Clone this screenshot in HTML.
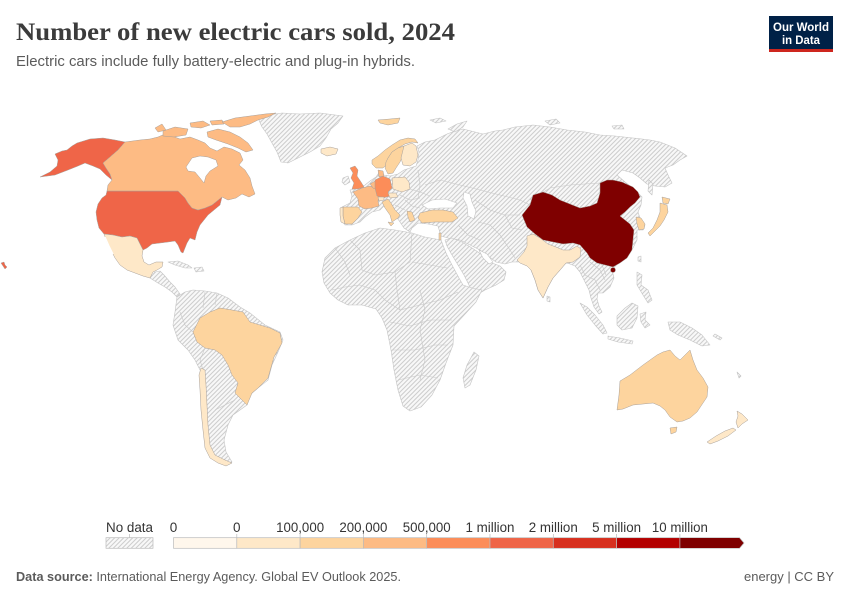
<!DOCTYPE html>
<html><head><meta charset="utf-8"><style>
html,body{margin:0;padding:0;background:#fff;}
svg{display:block;}
</style></head><body>
<svg width="850" height="600" viewBox="0 0 850 600" xmlns="http://www.w3.org/2000/svg" font-family="'Liberation Sans', sans-serif">
<defs>
<pattern id="h" patternUnits="userSpaceOnUse" width="4.5" height="4.5">
<rect width="4.5" height="4.5" fill="#f8f8f8"/>
<path d="M-1,1 L1,-1 M0,4.5 L4.5,0 M3.5,5.5 L5.5,3.5" stroke="#cdcdcd" stroke-width="1"/>
</pattern>
</defs>
<rect width="850" height="600" fill="#fff"/>

<!-- Header -->
<text x="16" y="40" font-family="'Liberation Serif', serif" font-size="25" font-weight="bold" fill="#3b3b3b" textLength="439" lengthAdjust="spacingAndGlyphs">Number of new electric cars sold, 2024</text>
<text x="16" y="66" font-size="14.5" fill="#5b5b5b" textLength="399" lengthAdjust="spacingAndGlyphs">Electric cars include fully battery-electric and plug-in hybrids.</text>
<rect x="769" y="16" width="64" height="36" fill="#002147"/>
<rect x="769" y="49" width="64" height="3" fill="#ce261e"/>
<text x="801" y="31" font-size="12" font-weight="bold" fill="#fff" text-anchor="middle" textLength="56" lengthAdjust="spacingAndGlyphs">Our World</text>
<text x="801" y="44" font-size="12" font-weight="bold" fill="#fff" text-anchor="middle" textLength="38" lengthAdjust="spacingAndGlyphs">in Data</text>

<!-- MAP: hatched (no data) -->
<g fill="url(#h)" stroke="#c4c4c4" stroke-width="0.6" stroke-linejoin="round">
<path d="M258,118 L268,115 L282,113 L300,114 L320,113 L343,116 L338,123 L331,129 L326,138 L320,146 L310,152 L298,158 L288,163 L281,162 L277,152 L272,143 L267,134 L262,127 Z"/>
<path d="M341,216 L342,207 L350,203 L352,196 L350,190 L358,188 L365,185 L370,181 L376,177 L380,171 L384,175 L390,176 L398,174 L404,170 L410,168 L416,166 L418,160 L419,152 L417,146 L425,142 L435,140 L447,134 L455,131 L463,129 L475,132 L483,134 L495,131 L503,130 L515,127 L533,125 L550,127 L567,130 L585,132 L600,135 L615,136 L633,138 L650,140 L660,142 L675,148 L687,156 L680,160 L673,165 L665,168 L668,175 L672,183 L665,187 L655,186 L647,184 L640,178 L633,173 L622,170 L617,175 L625,182 L635,190 L642,197 L641,205 L638,212 L640,218 L645,225 L643,230 L637,230 L637,240 L633,248 L628,255 L618,263 L612,270 L614,278 L610,287 L603,293 L598,293 L597,299 L599,306 L602,312 L599,314 L594,307 L591,298 L589,290 L585,282 L580,272 L575,266 L570,264 L566,263 L560,270 L553,278 L548,287 L543,298 L538,290 L535,280 L531,270 L527,265 L520,262 L512,262 L505,264 L496,262 L488,256 L480,250 L470,245 L460,240 L448,238 L441,236 L438,226 L428,224 L418,223 L412,228 L410,232 L404,228 L400,222 L395,215 L390,210 L385,205 L380,210 L372,212 L365,217 L360,222 L352,225 L345,225 Z"/>
<path d="M448,129 L457,124 L467,121 L463,127 L455,132 Z"/>
<path d="M430,120 L440,118 L446,121 L436,123 Z"/>
<path d="M545,121 L556,119 L560,123 L550,125 Z"/>
<path d="M612,126 L622,125 L624,129 L614,129 Z"/>
<path d="M649,180 L653,184 L652,195 L648,191 Z"/>
<path d="M343,178 L348,176 L350,182 L345,185 L342,182 Z"/>
<path d="M445,240 L452,238 L462,242 L472,248 L478,252 L486,258 L492,263 L500,266 L506,272 L504,280 L496,285 L485,290 L475,296 L472,293 L469,285 L464,275 L458,265 L452,255 L447,246 Z"/>
<path d="M322,272 L325,258 L335,248 L350,240 L365,233 L380,228 L395,230 L412,233 L425,237 L441,240 L446,253 L452,265 L459,278 L463,285 L472,288 L482,290 L476,302 L466,313 L454,326 L453,345 L446,363 L440,380 L432,395 L421,407 L410,411 L403,406 L398,390 L394,370 L391,350 L387,330 L382,318 L376,309 L362,305 L348,305 L338,300 L330,293 L324,283 Z"/>
<path d="M474,352 L479,356 L476,370 L470,385 L465,388 L463,378 L467,365 Z"/>
<path d="M150,278 L155,272 L160,271 L164,275 L170,282 L175,287 L180,294 L177,297 L172,292 L165,287 L158,283 Z"/>
<path d="M168,262 L178,261 L188,265 L192,268 L185,268 L175,265 Z"/>
<path d="M194,268 L202,267 L204,271 L196,272 Z"/>
<path d="M177,297 L185,292 L193,290 L205,291 L217,293 L228,298 L240,307 L250,313 L265,325 L280,332 L283,340 L278,352 L272,365 L268,380 L258,388 L250,395 L247,405 L240,410 L233,415 L228,425 L224,440 L226,452 L232,462 L225,465 L218,460 L210,452 L206,440 L204,425 L203,410 L202,390 L201,372 L195,360 L188,350 L178,340 L173,325 L175,312 Z"/>
<path d="M580,303 L587,307 L595,315 L603,325 L607,333 L603,334 L595,325 L587,315 Z"/>
<path d="M608,336 L620,338 L633,341 L632,344 L618,342 L608,339 Z"/>
<path d="M617,316 L625,308 L632,303 L638,306 L637,318 L632,328 L622,330 L617,325 Z"/>
<path d="M640,314 L646,312 L645,320 L650,325 L645,328 L641,322 Z"/>
<path d="M637,272 L642,275 L641,285 L648,290 L652,300 L648,303 L643,295 L637,285 Z"/>
<path d="M668,322 L680,322 L692,328 L702,335 L710,345 L702,346 L690,340 L678,335 L670,330 Z"/>
<path d="M638,257 L641,256 L641,262 L638,261 Z"/>
<path d="M547,296 L550,297 L550,302 L547,301 Z"/>
<path d="M715,334 L722,338 L720,340 L713,336 Z"/>
<path d="M737,372 L741,376 L739,378 Z"/>
</g>
<g fill="#fff" stroke="#c4c4c4" stroke-width="0.6">
<path d="M422,205 L432,200 L445,199 L457,203 L453,208 L440,208 L428,209 Z"/>
<path d="M464,192 L470,194 L472,202 L476,211 L474,219 L468,216 L467,206 L463,198 Z"/>
<path d="M479,250 L487,254 L493,262 L489,264 L483,258 Z"/>
</g>
<g fill="none" stroke="#c8c8c8" stroke-width="0.6">
<path d="M335,248 L345,262 L350,275 M350,240 L360,250 L362,270 L375,275 L395,272 L410,262 L412,233 M412,262 L430,265 L447,268"/>
<path d="M332,290 L345,287 L360,285 L375,290 L385,300 L400,310 L420,305 L440,300 L458,292 M390,322 L410,326 L430,320 L452,320 M393,350 L415,350 L435,345 L448,345 M398,380 L420,375 L438,378 M420,290 L425,310 L420,330 L425,360 L420,380 M395,272 L397,290 L400,310"/>
<path d="M205,348 L200,360 L203,370 M235,400 L225,405 L215,410 M193,332 L185,325 L180,312 M217,293 L215,305 M205,292 L203,308"/>
<path d="M410,189 L420,192 L430,196 M400,195 L410,200 L420,198 M395,205 L405,210 M418,170 L420,185 L418,198 M405,200 L412,206 L420,208"/>
<path d="M425,185 L440,180 L460,185 L480,190 L500,195 L520,200 L530,205 M530,200 L550,188 L570,185 L600,183 M475,200 L490,210 L505,215 L520,215 M490,225 L500,235 L510,250 L515,258 M478,222 L490,225 M505,215 L512,228 L522,230 M458,225 L468,235 L480,240"/>
<path d="M580,265 L585,275 L595,280 L600,290 M590,262 L600,270 L605,280 M600,260 L606,275"/>
</g>

<!-- Colored countries -->
<g stroke="#a8a09a" stroke-width="0.5" stroke-linejoin="round">
<path fill="#ef6548" d="M40,177 L50,172 L57,166 L58,160 L55,154 L62,151 L67,150 L72,146 L77,143 L90,139 L103,138 L115,140 L125,142 L118,150 L110,157 L103,163 L106,168 L110,174 L112,180 L106,175 L100,169 L93,166 L85,163 L78,166 L68,170 L55,175 Z"/>
<path fill="#ef6548" d="M107,191 L178,191 L180,193 L185,198 L188,203 L192,208 L198,210 L205,208 L212,205 L217,201 L222,197 L220,205 L214,210 L208,215 L204,220 L200,225 L197,232 L195,240 L190,238 L187,243 L185,248 L183,253 L181,252 L178,245 L175,241 L168,242 L160,243 L152,244 L147,248 L143,250 L140,244 L137,238 L130,236 L122,237 L113,235 L104,234 L99,228 L97,220 L96,212 L98,204 L102,198 L106,195 Z"/>
<path fill="#ef6548" d="M1,263 L4,262 L5,265 L7,267 L5,269 L3,266 Z"/>
<path fill="#fdbb84" d="M125,142 L140,140 L150,139 L158,137 L165,134 L172,136 L180,139 L190,137 L198,140 L205,143 L210,148 L217,151 L224,147 L232,149 L240,153 L243,160 L239,165 L245,170 L250,178 L252,186 L255,194 L249,197 L242,194 L236,198 L228,200 L222,197 L217,201 L212,205 L205,208 L198,210 L192,208 L188,203 L185,198 L180,193 L178,191 L107,191 L108,185 L112,180 L110,174 L106,168 L103,163 L110,157 L118,150 Z"/>
<path fill="#fdbb84" d="M207,132 L218,129 L230,132 L240,137 L248,143 L253,150 L246,152 L238,148 L228,144 L216,140 L208,137 Z"/>
<path fill="#fdbb84" d="M163,131 L175,127 L188,129 L186,135 L174,137 L163,136 Z"/>
<path fill="#fdbb84" d="M155,128 L162,124 L166,130 L158,132 Z"/>
<path fill="#fdbb84" d="M190,123 L203,121 L210,125 L201,128 L191,127 Z"/>
<path fill="#fdbb84" d="M210,121 L222,120 L224,124 L212,125 Z"/>
<path fill="#fdbb84" d="M222,122 L235,118 L250,116 L265,114 L276,113 L268,117 L258,120 L250,124 L240,127 L230,127 Z"/>
<path fill="#fee8c8" d="M104,234 L113,235 L122,237 L130,236 L137,238 L140,244 L143,250 L142,256 L144,262 L149,265 L156,262 L163,262 L162,267 L157,270 L153,272 L150,278 L143,276 L135,273 L127,270 L120,265 L115,258 L111,250 L107,242 Z"/>
<path fill="#fdd49e" d="M193,332 L200,318 L210,312 L220,308 L232,310 L243,312 L250,322 L260,325 L270,328 L280,333 L282,343 L274,357 L268,378 L258,388 L252,393 L247,405 L240,398 L235,393 L238,383 L232,375 L228,365 L222,355 L215,350 L205,348 L197,342 Z"/>
<path fill="#fee8c8" d="M201,368 L205,370 L206,385 L207,405 L208,425 L210,445 L215,455 L225,460 L232,463 L226,466 L218,463 L210,458 L205,448 L203,430 L201,410 L200,390 L199,375 Z"/>
<path fill="#fee8c8" d="M321,149 L330,147 L338,149 L336,154 L327,156 L321,153 Z"/>
<path fill="#fdd49e" d="M378,120 L390,119 L400,118 L398,123 L388,125 L380,123 Z"/>
<path fill="#fdd49e" d="M372,160 L378,156 L385,150 L392,145 L400,140 L408,138 L415,139 L418,143 L412,142 L405,144 L398,148 L392,152 L388,158 L386,165 L383,168 L376,168 L372,164 Z"/>
<path fill="#fdd49e" d="M388,158 L392,152 L398,148 L404,146 L403,155 L400,162 L396,168 L393,173 L388,174 L385,168 L386,162 Z"/>
<path fill="#fee8c8" d="M404,146 L412,143 L416,146 L418,155 L416,162 L410,166 L403,165 L401,158 Z"/>
<path fill="#fc8d59" d="M350,168 L355,166 L358,170 L357,176 L361,182 L364,187 L358,189 L352,189 L354,183 L351,178 L353,173 Z"/>
<path fill="#fdbb84" d="M353,192 L362,188 L370,186 L376,189 L380,195 L378,201 L379,206 L372,208 L365,209 L359,206 L358,199 Z"/>
<path fill="#fdd49e" d="M343,207 L358,207 L362,212 L358,218 L352,224 L345,224 L343,216 Z"/>
<path fill="#fee8c8" d="M340,208 L343,207 L343,216 L345,224 L341,222 L340,215 Z"/>
<path fill="#fdbb84" d="M370,184 L375,181 L377,186 L374,189 Z"/>
<path fill="#fdbb84" d="M378,170 L383,171 L384,176 L379,177 Z"/>
<path fill="#fc8d59" d="M375,180 L383,176 L390,179 L392,188 L388,192 L390,196 L383,198 L377,196 L375,188 Z"/>
<path fill="#fee8c8" d="M392,178 L405,177 L409,182 L410,189 L402,192 L393,189 Z"/>
<path fill="#fee8c8" d="M388,193 L396,193 L398,197 L390,198 Z"/>
<path fill="#fee8c8" d="M378,197 L384,197 L384,200 L379,201 Z"/>
<path fill="#fdd49e" d="M382,202 L388,199 L391,203 L395,210 L400,215 L398,218 L392,222 L390,215 L385,208 Z"/>
<path fill="#fdd49e" d="M388,222 L394,223 L391,226 Z"/>
<path fill="#fdd49e" d="M407,211 L412,212 L415,220 L410,222 L408,217 Z"/>
<path fill="#fdd49e" d="M420,213 L432,210 L443,210 L453,212 L458,218 L452,222 L435,222 L422,223 L418,218 Z"/>
<path fill="#fdd49e" d="M439,233 L441,233 L441,240 L439,240 Z"/>
<path fill="#7f0000" d="M522,215 L530,205 L533,195 L543,192 L552,195 L560,200 L570,204 L580,208 L590,206 L597,203 L600,193 L600,183 L607,180 L613,180 L622,182 L633,187 L638,192 L640,197 L635,203 L630,207 L625,212 L620,216 L625,220 L630,224 L634,230 L633,240 L632,250 L627,258 L620,263 L613,267 L605,265 L597,263 L590,258 L587,253 L580,245 L573,243 L563,244 L553,242 L543,240 L535,234 L527,227 Z"/>
<circle cx="613" cy="270" r="2.5" fill="#7f0000"/>
<path fill="#fee8c8" d="M517,260 L524,252 L527,246 L527,236 L533,234 L540,238 L548,244 L556,247 L563,250 L570,250 L577,246 L581,249 L580,257 L573,262 L566,263 L560,270 L553,278 L548,287 L543,298 L538,290 L535,280 L531,270 L527,266 L520,263 Z"/>
<path fill="#fdd49e" d="M636,217 L641,218 L645,224 L644,229 L639,230 L637,224 Z"/>
<path fill="#fdd49e" d="M660,203 L667,205 L668,212 L664,220 L660,226 L655,231 L650,236 L648,233 L653,228 L657,220 L660,212 Z"/>
<path fill="#fdd49e" d="M662,197 L670,199 L668,204 L663,203 Z"/>
<path fill="#fdd49e" d="M617,410 L619,395 L620,381 L630,375 L643,365 L650,360 L657,355 L663,352 L670,350 L675,356 L680,360 L685,355 L690,350 L693,360 L697,370 L703,378 L708,387 L707,397 L703,403 L697,412 L690,418 L683,421 L677,422 L670,417 L665,410 L660,406 L653,403 L643,404 L633,405 L623,409 Z"/>
<path fill="#fdd49e" d="M670,428 L677,427 L676,432 L671,434 Z"/>
<path fill="#fee8c8" d="M737,411 L742,414 L748,420 L742,424 L738,428 L736,422 L738,416 Z"/>
<path fill="#fee8c8" d="M733,428 L736,430 L728,436 L718,441 L710,444 L707,442 L716,436 L725,431 Z"/>
</g>
<path d="M186,167 L192,158 L200,156 L208,157 L216,160 L218,166 L210,171 L206,176 L204,183 L200,178 L195,172 L188,171 Z" fill="#fff" stroke="#a8a09a" stroke-width="0.5"/>
<path d="M105,237 L109,246 L113,254" fill="none" stroke="#fff" stroke-width="1.3"/>

<!-- Legend -->
<g font-size="13.5" fill="#333" text-anchor="middle">
<text x="129.5" y="532" textLength="47" lengthAdjust="spacingAndGlyphs">No data</text>
<text x="173.5" y="532">0</text>
<text x="236.8" y="532">0</text>
<text x="300.1" y="532" textLength="48" lengthAdjust="spacingAndGlyphs">100,000</text>
<text x="363.4" y="532" textLength="48" lengthAdjust="spacingAndGlyphs">200,000</text>
<text x="426.7" y="532" textLength="48" lengthAdjust="spacingAndGlyphs">500,000</text>
<text x="490" y="532" textLength="49" lengthAdjust="spacingAndGlyphs">1 million</text>
<text x="553.3" y="532" textLength="49" lengthAdjust="spacingAndGlyphs">2 million</text>
<text x="616.6" y="532" textLength="49" lengthAdjust="spacingAndGlyphs">5 million</text>
<text x="679.9" y="532" textLength="56" lengthAdjust="spacingAndGlyphs">10 million</text>
</g>
<rect x="106" y="537.7" width="47" height="10.6" fill="url(#h)" stroke="#bbb" stroke-width="0.7"/>
<line x1="129.5" y1="534" x2="129.5" y2="538" stroke="#bbb" stroke-width="0.7"/>
<g stroke="#bbb" stroke-width="0.7">
<rect x="173.5" y="537.7" width="63.3" height="10.6" fill="#fff7ec"/>
<rect x="236.8" y="537.7" width="63.3" height="10.6" fill="#fee8c8"/>
<rect x="300.1" y="537.7" width="63.3" height="10.6" fill="#fdd49e"/>
<rect x="363.4" y="537.7" width="63.3" height="10.6" fill="#fdbb84"/>
<rect x="426.7" y="537.7" width="63.3" height="10.6" fill="#fc8d59"/>
<rect x="490" y="537.7" width="63.3" height="10.6" fill="#ef6548"/>
<rect x="553.3" y="537.7" width="63.3" height="10.6" fill="#d7301f"/>
<rect x="616.6" y="537.7" width="63.3" height="10.6" fill="#b30000"/>
<path d="M679.9,537.7 L739.5,537.7 L744,543 L739.5,548.3 L679.9,548.3 Z" fill="#7f0000"/>
<path d="M236.8,534 V538 M300.1,534 V538 M363.4,534 V538 M426.7,534 V538 M490,534 V538 M553.3,534 V538 M616.6,534 V538 M679.9,534 V538" fill="none"/>
</g>

<!-- Footer -->
<text x="16" y="581" font-size="13" fill="#5b5b5b" textLength="385" lengthAdjust="spacingAndGlyphs"><tspan font-weight="bold">Data source:</tspan> International Energy Agency. Global EV Outlook 2025.</text>
<text x="834" y="581" font-size="13" fill="#5b5b5b" text-anchor="end" textLength="90" lengthAdjust="spacingAndGlyphs">energy | CC BY</text>
</svg>
</body></html>
